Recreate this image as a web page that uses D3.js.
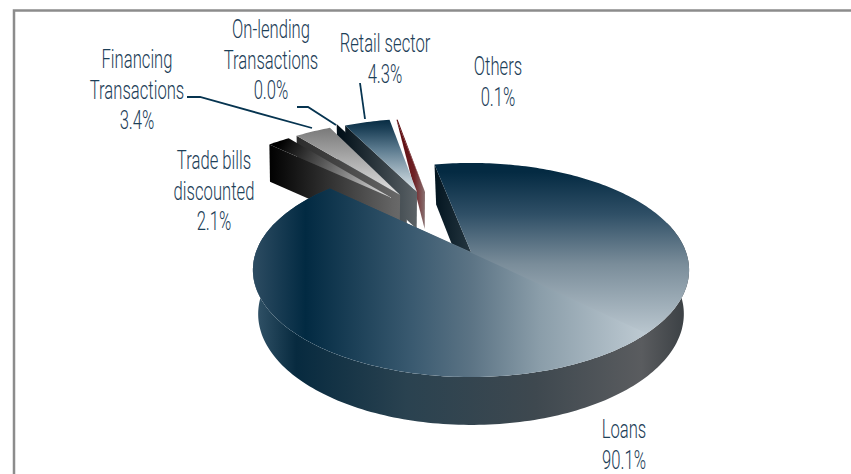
<!DOCTYPE html>
<html>
<head>
<meta charset="utf-8">
<script src="https://cdnjs.cloudflare.com/ajax/libs/d3/7.8.5/d3.min.js"></script>
<style>
  html, body { margin: 0; padding: 0; background: #fff; }
  svg { display: block; }
  text { font-family: "Roboto", sans-serif; font-weight: 300; fill: #1d4058; font-size: 26px; }
</style>
</head>
<body>
<svg id="chart" width="851" height="474"></svg>
<script>
// Credit portfolio shares, clockwise from the large slice
const categories = ["Loans", "Trade bills discounted", "Financing Transactions", "On-lending Transactions", "Retail sector", "Others"];
const shares = [90.1, 2.1, 3.4, 0.0, 4.3, 0.1];
const labelLines = [["Loans", "90.1%"], ["Trade bills", "discounted", "2.1%"], ["Financing", "Transactions", "3.4%"], ["On-lending", "Transactions", "0.0%"], ["Retail sector", "4.3%"], ["Others", "0.1%"]];

const svg = d3.select("#chart");
const defs = svg.append("defs");

svg.append("path").attr("d", "M14 474V10.5H851").attr("fill", "none").attr("stroke", "#8c8c8c").attr("stroke-width", 2.5);

// Perspective camera: each face of the disc maps the unit circle through its own projective scale
const topFace = { x0: 471, y0: 252, a: 215, b: 104, k: 0.168 };
const bottomFace = { x0: 471, y0: 293, a: 209, b: 107, k: 0.189 };
const explodedBottom = { x0: 471, y0: 290, a: 219, b: 107, k: 0.189 };
function project(face, X, Y) {
  const w = 1 - face.k * Y;
  return [face.x0 + face.a * X / w, face.y0 + face.b * Y / w];
}

// Pie layout, rotated so the small slices open toward the top
const rotation = -11.4 * Math.PI / 180;
const pie = d3.pie().sort(null).value(d => d).startAngle(rotation).endAngle(2 * Math.PI + rotation);
const arcs = pie(shares);

// Small slices are pulled away from the disc along the top of the plane
const pullOut = { "Loans": [0, 0], "Trade bills discounted": [-0.403, -0.569], "Financing Transactions": [-0.363, -0.604], "On-lending Transactions": [-0.33, -0.662], "Retail sector": [-0.278, -0.639], "Others": [-0.237, -0.639] };

function rimPoints(a0, a1, offset) {
  const n = Math.max(2, Math.ceil(Math.abs(a1 - a0) / 0.02));
  return d3.range(n + 1).map(i => {
    const t = a0 + (a1 - a0) * i / n;
    return [offset[0] + Math.sin(t), offset[1] - Math.cos(t)];
  });
}
const line = d3.line();
const mapped = (face, pts) => pts.map(p => project(face, p[0], p[1]));

function gradient(id, x1, y1, x2, y2, stops) {
  const g = defs.append("linearGradient").attr("id", id).attr("gradientUnits", "userSpaceOnUse")
    .attr("x1", x1).attr("y1", y1).attr("x2", x2).attr("y2", y2);
  stops.forEach(s => g.append("stop").attr("offset", s[0]).attr("stop-color", s[1]));
  return `url(#${id})`;
}

// Face fills
const loansUpper = gradient("loansUpper", 0, 172, 0, 340, [[0, "#042a42"], [0.25, "#2f4f66"], [0.55, "#7a8d9a"], [1, "#c0ccd4"]]);
const loansLower = gradient("loansLower", 254, 0, 650, 0, [[0, "#2c4b61"], [0.13, "#022a42"], [0.4, "#3a5a70"], [0.55, "#5c7485"], [0.72, "#8a9da9"], [1, "#c0ccd4"]]);
const loansWall = gradient("loansWall", 258, 0, 684, 0, [[0, "#2f5065"], [0.09, "#072a3f"], [0.35, "#2a4250"], [0.65, "#3e484f"], [0.9, "#5a5c5f"], [1, "#3c4145"]]);
const loansCut = gradient("loansCut", 434, 0, 471, 0, [[0, "#02141f"], [1, "#253640"]]);
const tradeTop = gradient("tradeTop", 285, 135, 392, 198, [[0, "#000"], [0.25, "#3a3a3a"], [0.6, "#8a8a8a"], [1, "#e6e6e6"]]);
const tradeWall = gradient("tradeWall", 268, 0, 395, 0, [[0, "#000"], [1, "#666"]]);
const finTop = gradient("finTop", 0, 127, 0, 196, [[0, "#787878"], [1, "#e4e4e4"]]);
const finWall = gradient("finWall", 296, 0, 402, 0, [[0, "#2b2b2b"], [1, "#6a6a6a"]]);
const retailTop = gradient("retailTop", 0, 118, 0, 192, [[0, "#03283f"], [0.15, "#1d4158"], [0.43, "#5d7c90"], [1, "#e2eaee"]]);
const retailWall = gradient("retailWall", 340, 0, 418, 0, [[0, "#021019"], [1, "#5d6468"]]);
const otherWall = gradient("otherWall", 396, 0, 426, 0, [[0, "#5a0609"], [0.6, "#6e2125"], [1, "#8a7878"]]);

const fills = {
  "Trade bills discounted": [tradeTop, tradeWall],
  "Financing Transactions": [finTop, finWall],
  "On-lending Transactions": ["#0b1a24", retailWall],
  "Retail sector": [retailTop, retailWall],
  "Others": ["#5a0609", otherWall]
};

const loans = arcs[0];
const loansOuter = rimPoints(loans.startAngle, loans.endAngle, [0, 0]);
const loansApex = [0, 0];

// Right cut face of the large slice, seen through the gap
const cutEdge = [loansApex, loansOuter[0]];
svg.append("path").datum(cutEdge.map(p => project(topFace, p[0], p[1])).concat(cutEdge.slice().reverse().map(p => project(bottomFace, p[0], p[1]))))
  .attr("d", d => line(d) + "Z").attr("fill", loansCut);

// Exploded slices back to front
[3, 5, 4, 2, 1].forEach(i => {
  const d = arcs[i];
  const name = categories[i];
  const off = pullOut[name];
  const rim = rimPoints(d.startAngle, d.endAngle, off);
  const far = rim[0];
  const [topFill, wallFill] = fills[name];
  // The wall of a hairline slice collapses toward its outer corner
  const wall = name === "Others"
    ? [project(topFace, far[0], far[1]), project(topFace, off[0], off[1]), project(explodedBottom, off[0], off[1])]
    : [project(topFace, far[0], far[1]), project(topFace, off[0], off[1]), project(explodedBottom, off[0], off[1]), project(explodedBottom, far[0], far[1])];
  svg.append("path").datum(wall).attr("d", p => line(p) + "Z").attr("fill", wallFill);
  const top = mapped(topFace, rim).concat([project(topFace, off[0], off[1])]);
  svg.append("path").datum(top).attr("d", p => line(p) + "Z").attr("fill", topFill);
});

// Outer wall of the large slice: visible only where the rim faces the viewer
const front = rimPoints(loans.startAngle, loans.endAngle, [0, 0]).filter(p => p[1] > -0.3);
svg.append("path").datum(mapped(topFace, front).concat(mapped(bottomFace, front).reverse()))
  .attr("d", p => line(p) + "Z").attr("fill", loansWall);

// Top of the large slice: the sheen breaks along a diagonal running through the slice's corner
const topPath = line(mapped(topFace, loansOuter).concat([project(topFace, 0, 0)])) + "Z";
const seam = defs.append("clipPath").attr("id", "belowSeam");
seam.append("path").attr("d", "M0 36L700 358V474H0Z");
svg.append("path").attr("d", topPath).attr("fill", loansUpper);
svg.append("path").attr("d", topPath).attr("fill", loansLower).attr("clip-path", "url(#belowSeam)");

// Labels and leader lines; the condensed look comes from narrowing the text horizontally
const labelAnchor = { "Loans": [624, 438], "Trade bills discounted": [214, 169], "Financing Transactions": [137, 68], "On-lending Transactions": [271, 38], "Retail sector": [385, 52], "Others": [498, 75] };
const lineHeight = 30.7;
categories.forEach((name, i) => {
  const [x, y] = labelAnchor[name];
  const t = svg.append("text").attr("text-anchor", "middle").attr("transform", `translate(${x},${y}) scale(0.64,1)`);
  labelLines[i].forEach((s, j) => t.append("tspan").attr("x", 0).attr("y", j * lineHeight).text(s));
});
const leaders = [
  [[187, 97], [200, 97], [312, 128]],
  [[297, 107], [308, 107], [336, 125]],
  [[360, 83], [365, 119]]
];
svg.selectAll(".leader").data(leaders).join("path").attr("class", "leader")
  .attr("d", d => line(d)).attr("fill", "none").attr("stroke", "#063450").attr("stroke-width", 1.8);
</script>
</body>
</html>
